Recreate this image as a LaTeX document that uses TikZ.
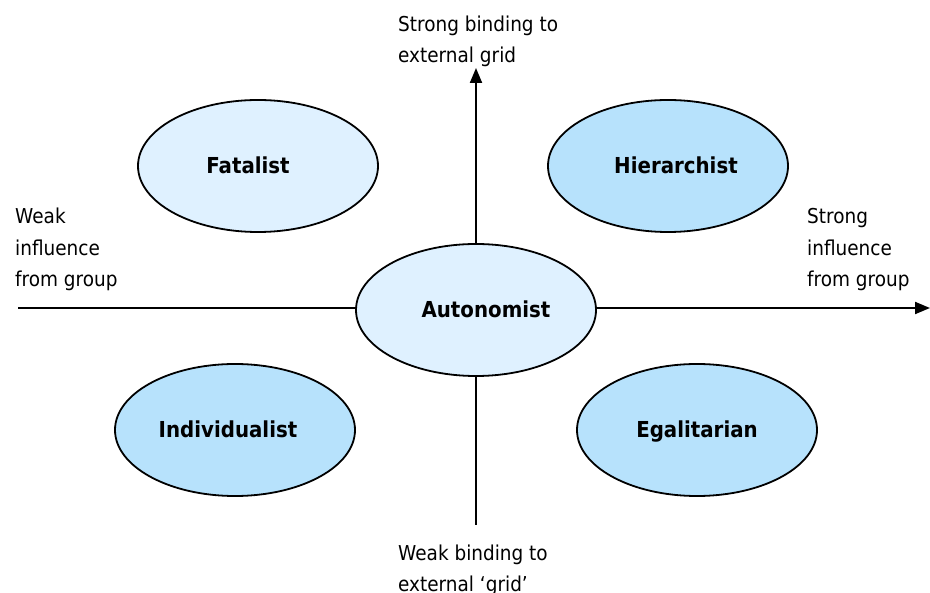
\documentclass[tikz,border=0pt]{standalone}
\usepackage{fontspec}
\setmainfont[FakeStretch=0.9]{DejaVu Sans}
\usetikzlibrary{shapes.geometric,arrows.meta}

\definecolor{palecell}{HTML}{DFF1FF}
\definecolor{deepcell}{HTML}{B7E2FC}

\begin{document}
\begin{tikzpicture}[x=1pt, y=-1pt, >={Triangle[length=15pt,width=12pt]}]
  \tikzset{
    cell/.style={ellipse, draw=black, line width=1.8pt, inner sep=0pt,
      minimum width=240pt, minimum height=132pt,
      text height=16pt, text depth=0pt,
      font=\fontsize{22}{26}\selectfont\bfseries},
    note/.style={anchor=base west, inner sep=0pt, align=left,
      font=\fontsize{20.5}{31.5}\selectfont},
    axis/.style={line width=2pt}
  }
  \useasboundingbox (0,0) rectangle (930,593);
  % Axis ends
  \coordinate (west) at (18,308);
  \coordinate (east) at (930,308);
  \coordinate (south) at (476,525);
  \coordinate (north) at (476,68);
  % Axes
  \draw[axis, ->] (south) -- (north);
  \draw[axis, ->] (west) -- (east);
  % Cultural types (text sits a little off centre, as in the source)
  \node[cell, fill=palecell] (fatalist) at (258,166) {Fatalist\hspace*{20pt}};
  \node[cell, fill=deepcell] (hierarchist) at (668,166) {\hspace*{16pt}Hierarchist};
  \node[cell, fill=palecell] (autonomist) at (476,310) {\hspace*{20pt}Autonomist};
  \node[cell, fill=deepcell] (individualist) at (235,430) {Individualist\hspace*{14pt}};
  \node[cell, fill=deepcell] (egalitarian) at (697,430) {Egalitarian};
  % Axis labels (placed at the baseline of their last line)
  \node[note] (gridhigh) at (398,63) {Strong binding to\\external grid};
  \node[note] (gridlow) at (398,592) {Weak binding to\\external `grid'};
  \node[note] (groupweak) at (15,287) {Weak\\influence\\from group};
  \node[note] (groupstrong) at (807,287) {Strong\\influence\\from group};
\end{tikzpicture}
\end{document}
